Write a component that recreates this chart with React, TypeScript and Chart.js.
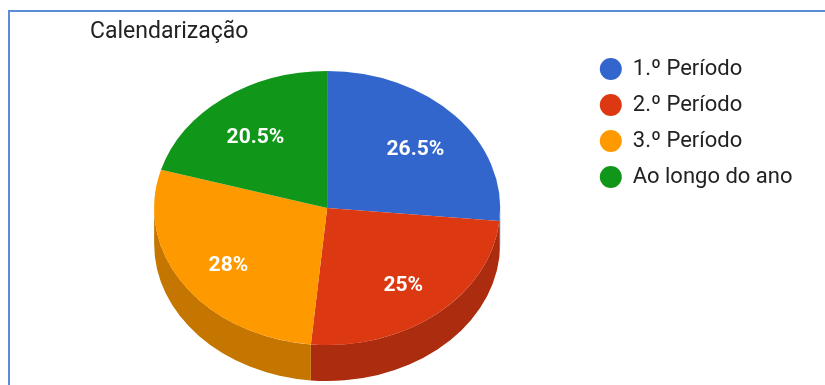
import React, { useEffect, useRef } from 'react';
import { Chart, registerables, layouts } from 'chart.js';

Chart.register(...registerables);

// ---- data ----
const chartTitle = 'Calendarização';
const categories = ['1.º Período', '2.º Período', '3.º Período', 'Ao longo do ano'];
const shares = [26.5, 25, 28, 20.5];
const topColors = ['#3366cc', '#dc3912', '#ff9900', '#109618'];
const sideColors = ['#274d9b', '#ab2c0e', '#c47600', '#0c7213'];

// ---- style ----
const FONT = 'Roboto, "Liberation Sans", Arial, sans-serif';
const TILT = 137 / 173; // vertical squash of the pie top
const DEPTH = 36; // pixel thickness of the 3D side
const LABEL_POS = 0.69; // fraction of radius where slice labels sit
const LABEL_DROP = 5; // labels sit slightly low on the tilted face
const LEGEND_GAP = 21.5;

const legendGap = {
  id: 'legendGap',
  beforeInit(chart: any) {
    const box: any = {
      position: 'right',
      weight: 500,
      fullSize: false,
      options: { display: false },
      left: 0, top: 0, right: 0, bottom: 0, width: 0, height: 0,
      isHorizontal() { return false; },
      update(_w: number, h: number) { this.width = LEGEND_GAP; this.height = h; },
      draw() {},
    };
    layouts.addBox(chart, box);
  },
};

const pie3d = {
  id: 'pie3d',
  beforeDatasetsDraw(chart: any) {
    const arcs = chart.getDatasetMeta(0).data;
    const ctx = chart.ctx;
    ctx.save();
    chart.$pie3dSaved = true;
    if (!arcs.length) return;
    const cy = arcs[0].y;
    ctx.translate(0, cy);
    ctx.scale(1, TILT);
    ctx.translate(0, -cy);
    const d = DEPTH / TILT;
    arcs.forEach((arc: any, i: number) => {
      const { x, y, startAngle, endAngle, outerRadius } = arc;
      for (const base of [-2 * Math.PI, 0, 2 * Math.PI]) {
        const s = Math.max(startAngle, base);
        const e = Math.min(endAngle, base + Math.PI);
        if (e <= s) continue;
        ctx.beginPath();
        ctx.arc(x, y, outerRadius, s, e);
        ctx.arc(x, y + d, outerRadius, e, s, true);
        ctx.closePath();
        ctx.fillStyle = sideColors[i];
        ctx.fill();
      }
    });
  },
  afterDatasetsDraw(chart: any) {
    const ctx = chart.ctx;
    if (chart.$pie3dSaved) {
      ctx.restore();
      chart.$pie3dSaved = false;
    }
    const arcs = chart.getDatasetMeta(0).data;
    const total = shares.reduce((a, b) => a + b, 0);
    ctx.save();
    ctx.font = 'bold 21px ' + FONT;
    ctx.fillStyle = '#ffffff';
    ctx.textAlign = 'center';
    ctx.textBaseline = 'middle';
    arcs.forEach((arc: any, i: number) => {
      const mid = (arc.startAngle + arc.endAngle) / 2;
      const r = arc.outerRadius * LABEL_POS;
      const lx = arc.x + Math.cos(mid) * r;
      const ly = arc.y + Math.sin(mid) * r * TILT + LABEL_DROP;
      const pct = Math.round((shares[i] / total) * 1000) / 10;
      ctx.fillText(pct + '%', lx, ly);
    });
    ctx.restore();
  },
};

export default function App() {
  const ref = useRef<HTMLCanvasElement | null>(null);

  useEffect(() => {
    if (!ref.current) return;
    const chart = new Chart(ref.current, {
      type: 'pie',
      data: {
        labels: categories,
        datasets: [
          {
            data: shares,
            backgroundColor: topColors,
            borderWidth: 0,
            radius: 173,
            clip: false,
          } as any,
        ],
      },
      options: {
        responsive: false,
        animation: false,
        devicePixelRatio: 1,
        layout: { padding: { left: 90, top: 21, right: 22.5, bottom: 13 } },
        plugins: {
          title: {
            display: true,
            text: chartTitle,
            align: 'start',
            color: '#222222',
            font: { family: FONT, size: 23, weight: 'normal', lineHeight: 1 },
            padding: { top: 0, bottom: 0 },
          },
          legend: {
            position: 'right',
            align: 'start',
            fullSize: false,
            labels: {
              usePointStyle: true,
              boxWidth: 22,
              boxHeight: 15.56,
              padding: 14,
              color: '#222222',
              font: { family: FONT, size: 22 },
              generateLabels: () =>
                categories.map((text, i) => ({
                  text,
                  fillStyle: topColors[i],
                  strokeStyle: topColors[i],
                  lineWidth: 0,
                  pointStyle: 'circle',
                  hidden: false,
                  index: i,
                  fontColor: '#222222',
                })),
            },
          },
          tooltip: { enabled: false },
        },
      },
      plugins: [legendGap, pie3d],
    } as any);
    return () => chart.destroy();
  }, []);

  return (
    <div style={{ position: 'absolute', left: 0, top: 0, width: 825, height: 385, overflow: 'hidden', background: '#fff' }}>
      <div
        style={{
          position: 'absolute',
          left: 8,
          top: 10,
          width: 900,
          height: 500,
          borderLeft: '2px solid #5b8cd8',
          borderTop: '2px solid #5b8cd8',
        }}
      />
      <canvas ref={ref} width={825} height={385} style={{ position: 'absolute', left: 0, top: 0, display: 'block' }} />
    </div>
  );
}
